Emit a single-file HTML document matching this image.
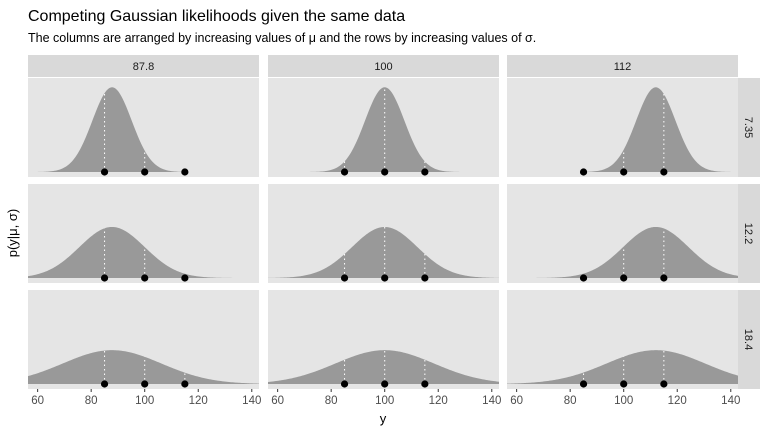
<!DOCTYPE html>
<html><head><meta charset="utf-8"><style>
body{margin:0;background:#fff;}
svg text{font-family:"Liberation Sans",sans-serif;}
</style></head><body>
<svg id="c" width="768" height="432" xmlns="http://www.w3.org/2000/svg">
<text x="28" y="21" font-size="16" fill="#000">Competing Gaussian likelihoods given the same data</text>
<text x="28" y="42" font-size="12.5" fill="#000">The columns are arranged by increasing values of μ and the rows by increasing values of σ.</text>
<text transform="translate(17,233) rotate(-90)" text-anchor="middle" font-size="13">p(y|μ, σ)</text>
<text x="383" y="423" text-anchor="middle" font-size="13">y</text>
<g id="g"></g>
</svg>
<script>
const mus=[87.8,100,112];
const sigmas=[7.35,12.2,18.4];
const dataY=[85,100,115];
const xTicks=[60,80,100,120,140];
const NS="http://www.w3.org/2000/svg";
const g=document.getElementById('g');
const colX=[28,268,507], colW=231;
const rowY=[78,184,290], rowH=99;
const xmin=56.4,xmax=142.7;
const ymax=0.0543*1.05;
function mk(t,a){const e=document.createElementNS(NS,t);for(const k in a)e.setAttribute(k,a[k]);g.appendChild(e);return e;}
function dens(x,m,s){return Math.exp(-0.5*((x-m)/s)**2)/(s*Math.sqrt(2*Math.PI));}
mus.forEach((m,ci)=>{
  const x0=colX[ci];
  const sx=v=>x0+(v-xmin)/(xmax-xmin)*colW;
  let st=mk('rect',{x:x0,y:55,width:colW,height:22,fill:'#d9d9d9'});
  
  
  let tt=mk('text',{x:x0+colW/2,y:70,'text-anchor':'middle','font-size':'11',fill:'#1a1a1a'});tt.textContent=m;
  
  
  sigmas.forEach((s,ri)=>{
    const y0=rowY[ri];
    const base=y0+rowH-5;
    const sy=v=>base-v/ymax*(rowH-10);
    let p=mk('rect',{x:x0,y:y0,width:colW,height:rowH,fill:'#e5e5e5'});
    
    
    let d='M'+sx(xmin)+','+sy(0);
    for(let i=0;i<=200;i++){const v=xmin+(xmax-xmin)*i/200;d+=' L'+sx(v).toFixed(2)+','+sy(dens(v,m,s)).toFixed(2);}
    d+=' L'+sx(xmax)+','+sy(0)+'Z';
    let a=mk('path',{d:d,fill:'#999999'});
    
    
    dataY.forEach(v=>{
      let l=mk('line',{x1:sx(v),x2:sx(v),y1:sy(0),y2:sy(dens(v,m,s)),stroke:'#fff','stroke-width':1,'stroke-dasharray':'1.5,3'});
      
      
    });
    dataY.forEach(v=>{
      let c=mk('circle',{cx:sx(v),cy:sy(0),r:3.6,fill:'#000'});
      
      
    });
    if(ci===2){
      let rs=mk('rect',{x:738,y:y0,width:22,height:rowH,fill:'#d9d9d9'});
      
      
      let rt=mk('text',{transform:`translate(745,${y0+rowH/2}) rotate(90)`,'text-anchor':'middle','font-size':'11',fill:'#1a1a1a'});rt.textContent=s;
      
      
    }
  });
  xTicks.forEach(t=>{
    let tk=mk('line',{x1:sx(t),x2:sx(t),y1:389,y2:392,stroke:'#333','stroke-width':1});
    
    
    let tl=mk('text',{x:sx(t),y:404,'text-anchor':'middle','font-size':'11.5',fill:'#4d4d4d'});tl.textContent=t;
    
    
  });
});
</script>
</body></html>
